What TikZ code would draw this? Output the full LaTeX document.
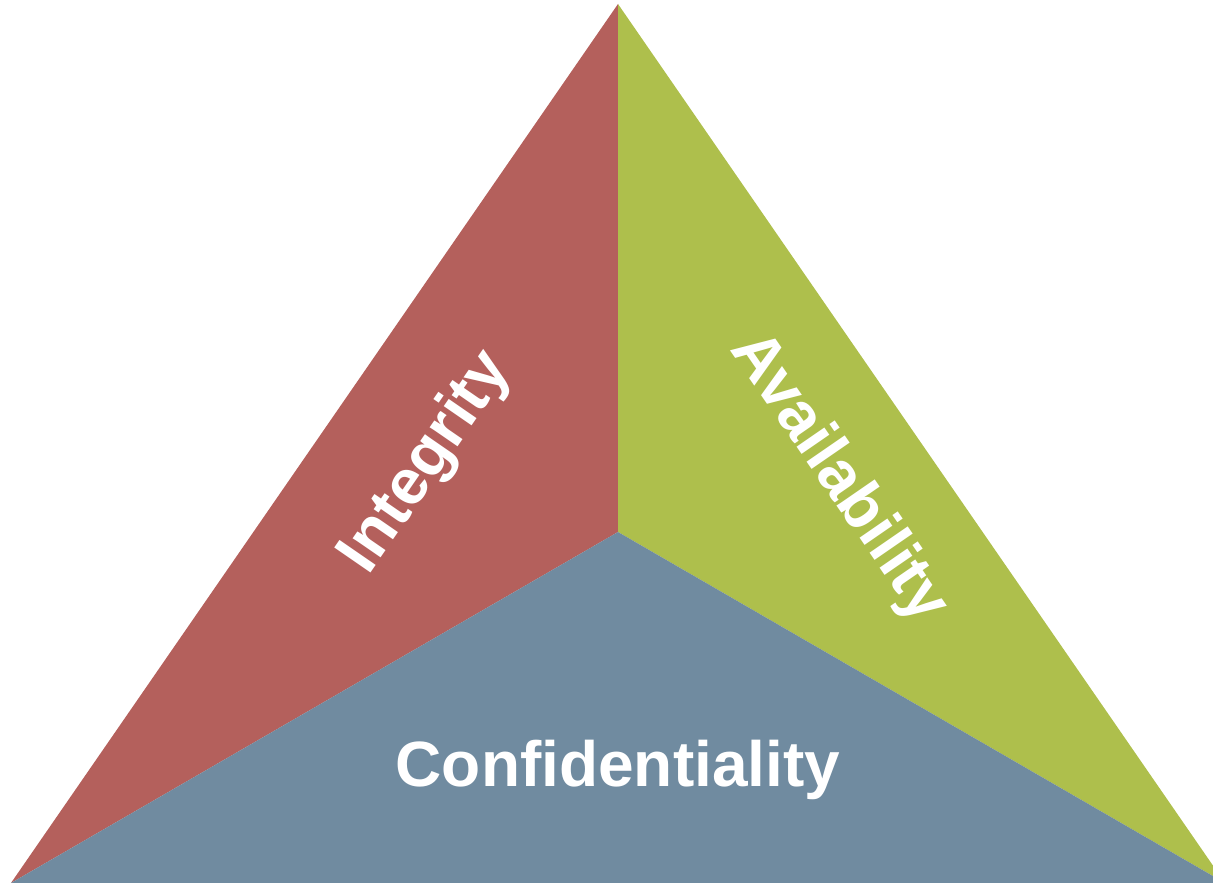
\documentclass[tikz,border=0pt]{standalone}
\usepackage{fontspec}
\setmainfont{Liberation Sans}
\definecolor{cired}{HTML}{B4605C}
\definecolor{cigreen}{HTML}{AEBF4C}
\definecolor{ciblue}{HTML}{708BA0}
\begin{document}
\begin{tikzpicture}[x=1pt,y=-1pt,
  lbl/.style={text=white,font=\fontsize{64}{70}\selectfont\bfseries,inner sep=0pt}]
\useasboundingbox (0,0) rectangle (1213,883);
\clip (0,0) rectangle (1213,883);
\coordinate (apex) at (618,4);
\coordinate (bl) at (11,883);
\coordinate (br) at (1225,883);
\coordinate (ctr) at (618,532);
\fill[cired] (apex) -- (ctr) -- (bl) -- cycle;
\fill[cigreen] (apex) -- (br) -- (ctr) -- cycle;
\fill[ciblue] (bl) -- (ctr) -- (br) -- cycle;
\node[lbl,rotate=55.4] (integ) at (427,463) {Integrity};
\node[lbl,rotate=-55.4] (avail) at (838,478) {Availability};
\node[lbl,anchor=base] (conf) at (618,786) {Confidentiality};
\end{tikzpicture}
\end{document}
